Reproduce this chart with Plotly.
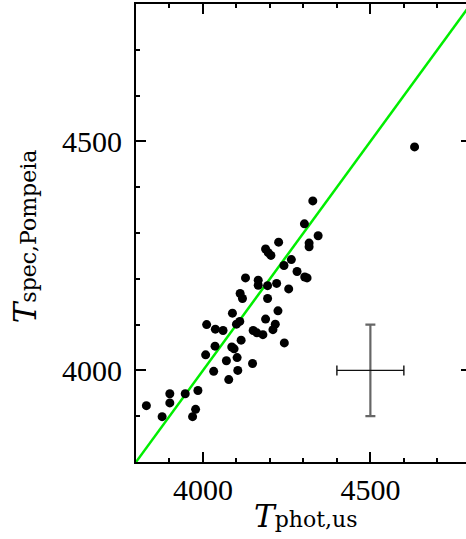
import plotly.graph_objects as go

# Data
t_phot_us = [3831, 3878, 3901, 3901, 3947, 3969, 3978, 3985, 4008, 4011,
             4032, 4036, 4037, 4060, 4070, 4077, 4086, 4093, 4088, 4102,
             4104, 4100, 4110, 4114, 4111, 4118, 4127, 4148, 4150, 4161,
             4179, 4165, 4165, 4187, 4193, 4193, 4187, 4195, 4203, 4209,
             4216, 4220, 4224, 4226, 4242, 4243, 4256, 4264, 4281, 4304,
             4311, 4303, 4317, 4317, 4328, 4344, 4632]
t_spec_pompeia = [3923, 3899, 3949, 3929, 3949, 3899, 3915, 3956, 4034, 4100,
                  3998, 4053, 4090, 4087, 4021, 3980, 4051, 4047, 4125, 4028,
                  4000, 4101, 4107, 4066, 4168, 4157, 4202, 4015, 4087, 4082,
                  4078, 4197, 4186, 4112, 4185, 4157, 4265, 4257, 4251, 4089,
                  4101, 4190, 4130, 4280, 4229, 4060, 4178, 4242, 4216, 4204,
                  4202, 4320, 4278, 4270, 4370, 4294, 4488]

one_to_one = [3800, 4800]

err_center_x = [4500]
err_center_y = [4000]
err_x = 100
err_y = 100

x_range = [3800, 4785.6]
y_range = [3800, 4800]

x_title = "<i>T</i><span style='font-size:22px'>phot,us</span>"
y_title = "<i>T</i><span style='font-size:22px'>spec,Pompeia</span>"

tick_font = dict(family="Liberation Serif", size=30, color="black")
title_font = dict(family="DejaVu Serif", size=31, color="black")

fig = go.Figure()

fig.add_trace(go.Scatter(x=one_to_one, y=one_to_one, mode="lines",
                         line=dict(color="#00ee00", width=2.5),
                         hoverinfo="skip", showlegend=False))

fig.add_trace(go.Scatter(x=t_phot_us, y=t_spec_pompeia, mode="markers",
                         marker=dict(color="black", size=9),
                         showlegend=False))

fig.add_trace(go.Scatter(x=err_center_x, y=err_center_y, mode="markers",
                         marker=dict(size=1, color="rgba(0,0,0,0)"),
                         error_x=dict(type="constant", value=err_x, color="#111111",
                                      thickness=1.4, width=5),
                         error_y=dict(type="constant", value=err_y, color="#666666",
                                      thickness=2.2, width=5),
                         showlegend=False))

# invisible trace for the right-hand tick axis
fig.add_trace(go.Scatter(x=[None], y=[None], yaxis="y2", showlegend=False))

fig.update_layout(
    width=466, height=539,
    margin=dict(l=136, r=0, t=4, b=77, autoexpand=False),
    plot_bgcolor="white", paper_bgcolor="white",
    xaxis=dict(range=x_range, tick0=4000, dtick=500, automargin=False,
               showgrid=False, zeroline=False,
               showline=True, linecolor="black", linewidth=2,
               mirror="ticks", ticks="inside", ticklen=10, tickwidth=2,
               tickcolor="black",
               minor=dict(ticks="inside", ticklen=4, tickwidth=2, dtick=100,
                          tick0=4000, tickcolor="black", showgrid=False),
               tickfont=tick_font, ticklabelstandoff=0),
    yaxis=dict(range=y_range, tick0=4000, dtick=500, automargin=False,
               showgrid=False, zeroline=False,
               showline=True, linecolor="black", linewidth=2,
               ticks="inside", ticklen=10, tickwidth=2, tickcolor="black",
               minor=dict(ticks="inside", ticklen=4, tickwidth=2, dtick=100,
                          tick0=4000, tickcolor="black", showgrid=False),
               tickfont=tick_font, ticklabelstandoff=6),
    yaxis2=dict(range=y_range, overlaying="y", side="right", anchor="x",
                automargin=False,
                tick0=4000, dtick=500, showgrid=False, zeroline=False,
                showline=False, ticks="inside", ticklen=5, tickwidth=2,
                tickcolor="black", showticklabels=False),
    annotations=[
        dict(text=x_title, xref="paper", yref="paper", x=0.515, y=0,
             xanchor="center", yanchor="top", yshift=-34, showarrow=False,
             font=title_font),
        dict(text=y_title, xref="paper", yref="paper", x=-0.336, y=0.493,
             xanchor="center", yanchor="middle", textangle=-90, showarrow=False,
             font=title_font),
    ],
)

fig.write_html("out.html", config={"displayModeBar": False},
               post_script="document.body.style.margin='0';document.body.style.overflow='hidden';")
